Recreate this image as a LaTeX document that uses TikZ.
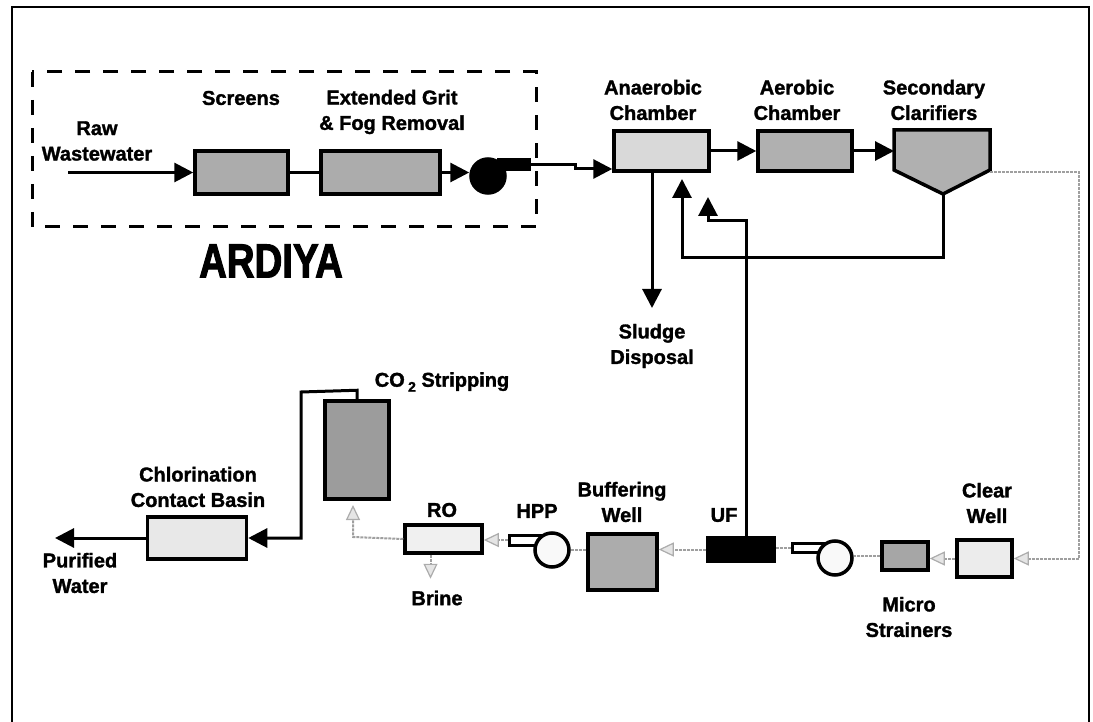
\documentclass[tikz,border=0pt]{standalone}
\usepackage{fontspec}
\setmainfont{Liberation Sans}[BoldFeatures={FakeBold=1.5}]
\newfontfamily\condfont{Liberation Sans}[FakeStretch=0.8, BoldFeatures={FakeBold=2}]
\usetikzlibrary{arrows.meta}
\tikzset{
  lbl/.style={font=\fontsize{20}{25.5}\selectfont\bfseries, align=center, inner sep=0pt},
  box/.style={draw, line width=3.5pt, inner sep=0pt},
  flow/.style={line width=3pt, -{Triangle[length=19pt,width=19pt]}},
  pipe/.style={line width=3pt},
  gline/.style={draw=gray!75, line width=2pt, dash pattern=on 3pt off 1pt},
  garrow/.style={gline, -{Triangle[length=15pt,width=14pt,fill=gray!20,color=gray!65,line width=1.2pt]}},
  pumpc/.style={circle, draw, line width=3.5pt, minimum size=34pt, inner sep=0pt},
  pumpo/.style={rectangle, draw, line width=3pt, inner sep=0pt}
}
\begin{document}
\begin{tikzpicture}[x=1pt,y=-1pt]
\useasboundingbox (0,0) rectangle (1093,722);
% outer frame
\draw[line width=2pt] (12,740) -- (12,7) -- (1089,7) -- (1089,740);
% ARDIYA dashed box
\draw[line width=3pt, dash pattern=on 15pt off 13pt] (32,72) rectangle (536,227);

% ---- upper row
\coordinate (rawin) at (68,172.5);
\node[box, fill=gray!65, minimum width=93pt, minimum height=43pt] (screens) at (241.5,172.5) {};
\node[box, fill=gray!65, minimum width=119pt, minimum height=43pt] (grit) at (380.5,172.5) {};
\node[pumpo, fill=black, minimum width=31pt, minimum height=10pt] (out1) at (513.5,165) {};
\node[pumpc, fill=black] (pump1) at (488,176) {};
\node[box, fill=gray!30, minimum width=95pt, minimum height=40pt] (anaer) at (661.5,151) {};
\node[box, fill=gray!62, minimum width=94pt, minimum height=40pt] (aer) at (805,151) {};
\draw[box, fill=gray!62] (894,130) -- (990,130) -- (990,170) -- (943,194) -- (894,170) -- cycle;
\coordinate (clarW) at (894,151);
\coordinate (clarB) at (943,194);
\coordinate (clarE) at (990,172);

\node[lbl] (rawlbl) at (97,141) {Raw\\Wastewater};
\node[lbl] (screenslbl) at (241,98) {Screens};
\node[lbl] (gritlbl) at (392,112) {Extended Grit\\\& Fog Removal};
\node[font=\fontsize{48}{50}\condfont\bfseries, inner sep=0pt] (ardiya) at (271,261) {ARDIYA};
\node[lbl] (anaerlbl) at (653,100) {Anaerobic\\Chamber};
\node[lbl] (aerlbl) at (797,100) {Aerobic\\Chamber};
\node[lbl] (clarlbl) at (934,100) {Secondary\\Clarifiers};

\draw[flow] (rawin) -- (screens.west);
\draw[pipe] (screens.east) -- (grit.west);
\draw[flow] (grit.east) -- (pump1.west |- grit.east);
\coordinate (kink) at (575,165);
\draw[flow] (out1.east) -- (kink) -- (575,169) -- ([yshift=-18pt]anaer.west);
\draw[flow] (anaer.east) -- (aer.west);
\draw[flow] (aer.east) -- (clarW);

% sludge
\coordinate (sludgetip) at (652,308);
\draw[flow] ([xshift=-9.5pt]anaer.south) -- (sludgetip);
\node[lbl] (sludgelbl) at (652,346) {Sludge\\Disposal};

% return sludge
\coordinate (ret1) at (682,179);
\draw[flow] (clarB) -- (943,258) -- (682,258) -- (ret1);

% ---- lower row
\node[box, fill=gray!15, minimum width=55pt, minimum height=37pt] (clear) at (984.5,558.5) {};
\node[box, fill=gray!70, minimum width=46pt, minimum height=28pt] (micro) at (905,556) {};
\node[pumpo, fill=white, minimum width=31pt, minimum height=9pt] (out2) at (807.5,547.5) {};
\node[pumpc, fill=gray!5] (pump2) at (835,558) {};
\node[box, fill=black, minimum width=66pt, minimum height=23pt] (uf) at (741,549.5) {};
\node[box, fill=gray!65, minimum width=69pt, minimum height=56pt] (buf) at (622.5,562) {};
\node[pumpo, fill=white, minimum width=33pt, minimum height=10pt] (hppout) at (525.5,540) {};
\node[pumpc, fill=gray!5] (hpp) at (552,550) {};
\node[box, fill=gray!12, minimum width=77pt, minimum height=28pt] (ro) at (443.5,539) {};
\node[box, fill=gray!78, minimum width=64pt, minimum height=98pt] (co2) at (357,450) {};
\node[box, fill=gray!18, minimum width=99pt, minimum height=42pt] (chlor) at (197,538) {};
\coordinate (pur) at (55,538);
\coordinate (co2in) at (353,505);
\coordinate (ret2) at (708,197);

\node[lbl] (clearlbl) at (987,503) {Clear\\Well};
\node[lbl] (microlbl) at (909,617) {Micro\\Strainers};
\node[lbl] (uflbl) at (724,515) {UF};
\node[lbl] (buflbl) at (622,502) {Buffering\\Well};
\node[lbl] (hpplbl) at (537,511) {HPP};
\node[lbl] (rolbl) at (442,510) {RO};
\node[lbl] (brinelbl) at (437,598) {Brine};
\node[lbl] (co2lbl) at (442,382) {CO\,\raisebox{-5pt}{\fontsize{14}{14}\selectfont 2} Stripping};
\node[lbl] (chlorlbl) at (198,487) {Chlorination\\Contact Basin};
\node[lbl] (purlbl) at (80,573) {Purified\\Water};

% gray flows
\draw[garrow] (clarE) -- (1079,172) -- (1079,558.5) -- (clear.east);
\draw[garrow] (clear.west) -- (clear.west -| micro.east);
\draw[gline] (micro.west) -- (micro.west -| pump2.east);
\draw[gline] (out2.west) -- (out2.west -| uf.east);
\draw[garrow] (uf.west) -- (uf.west -| buf.east);
\draw[gline] (buf.west |- hpp.east) -- (hpp.east);
\draw[garrow] (hppout.west) -- (hppout.west -| ro.east);
\draw[garrow] (ro.west) -- (353,537) -- (co2in);
\draw[garrow] ([xshift=-13pt]ro.south) -- ++(0,24);

% UF backwash to anaerobic
\draw[flow] ([xshift=5pt]uf.north) -- (746,221) -- (708,221) -- (ret2);

% product water
\draw[flow] (co2.north) -- ++(0,-9) -- (301,392) -- (301,538) -- (chlor.east);
\draw[flow] (chlor.west) -- (pur);
\end{tikzpicture}
\end{document}
